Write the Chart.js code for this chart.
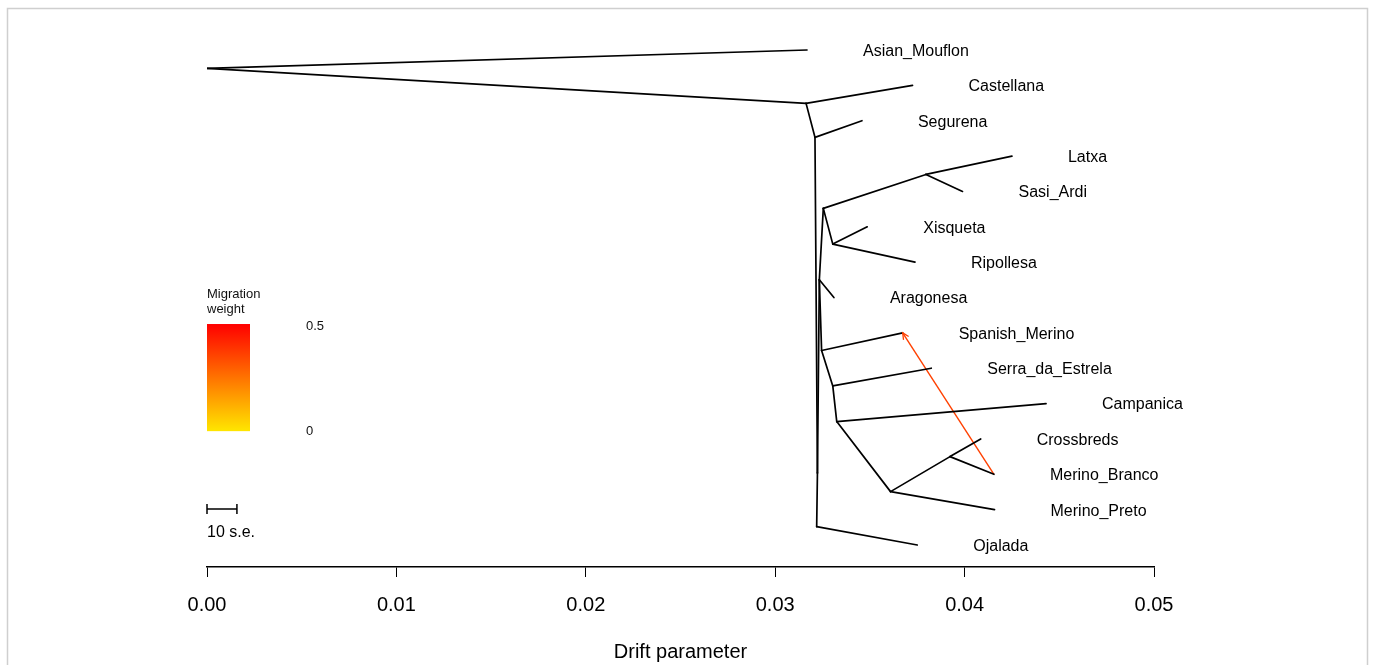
<!DOCTYPE html>
<html><head><meta charset="utf-8">
<script src="https://cdn.jsdelivr.net/npm/chart.js@4.4.1/dist/chart.umd.min.js"></script>
<style>html,body{margin:0;padding:0;background:#fff;overflow:hidden}#wrap{position:relative;width:1375px;height:665px}</style>
</head><body><div id="wrap"><canvas id="c" width="1375" height="665"></canvas></div>
<script>
// ---- data (x = drift parameter, y = tree row, 1 = top) ----
const nodeNames = ['root','A','B','X','I','G','C','F','E','H','K','L','M','N',
  'Asian_Mouflon','Castellana','Segurena','Latxa','Sasi_Ardi','Xisqueta','Ripollesa','Aragonesa',
  'Spanish_Merino','Serra_da_Estrela','Campanica','Crossbreds','Merino_Branco','Merino_Preto','Ojalada'];
const nodeX = [0.0,0.03163,0.03210,0.03223,0.03219,0.03233,0.03254,0.03796,0.03304,0.03245,0.03304,0.03325,0.03609,0.03923,
  0.03168,0.03725,0.03458,0.04250,0.03989,0.03486,0.03738,0.03310,
  0.03673,0.03824,0.04430,0.04085,0.04155,0.04158,0.03750];
const nodeY = [1.52,2.51,3.47,12.96,14.48,7.50,5.48,4.52,6.49,9.50,10.50,11.51,13.49,12.50,
  1,2,3,4,5,6,7,8,9,10,11,12,13,14,15];
const tips = ['Asian_Mouflon','Castellana','Segurena','Latxa','Sasi_Ardi','Xisqueta','Ripollesa','Aragonesa',
  'Spanish_Merino','Serra_da_Estrela','Campanica','Crossbreds','Merino_Branco','Merino_Preto','Ojalada'];
const edges = [['root','Asian_Mouflon'],['root','A'],['A','Castellana'],['A','B'],['B','Segurena'],['B','X'],
  ['X','I'],['I','Ojalada'],['X','G'],['G','C'],['G','Aragonesa'],['C','F'],['F','Latxa'],['F','Sasi_Ardi'],
  ['C','E'],['E','Xisqueta'],['E','Ripollesa'],['G','H'],['H','Spanish_Merino'],['H','K'],['K','Serra_da_Estrela'],
  ['K','L'],['L','Campanica'],['L','M'],['M','N'],['N','Crossbreds'],['N','Merino_Branco'],['M','Merino_Preto']];
const migrationFrom = ['Merino_Branco'];
const migrationTo = ['Spanish_Merino'];
const migrationWeight = [0.36];
const xTicks = [0.00,0.01,0.02,0.03,0.04,0.05];
const weightTicks = [0, 0.5];
const seBar = 0.00158; // 10 s.e.

// ---- build ----
const idx = n => nodeNames.indexOf(n);
const pt = n => ({x: nodeX[idx(n)], y: nodeY[idx(n)]});
function weightColor(w){
  const t = Math.max(0, Math.min(1, w/0.5));
  const g = Math.round(230*(1-t));
  return `rgb(255,${g},0)`;
}
const datasets = edges.map(([a,b]) => ({
  data:[pt(a),pt(b)], showLine:true, borderColor:'#000', borderWidth:1.7,
  pointRadius:0, borderCapStyle:'round', fill:false
}));
migrationFrom.forEach((f,i)=>{
  datasets.push({data:[pt(f),pt(migrationTo[i])], showLine:true, borderColor:weightColor(migrationWeight[i]),
    borderWidth:1.4, pointRadius:0, fill:false});
});

const FONT = '"Liberation Sans", Arial, sans-serif';
const extras = {
  id:'extras',
  beforeDraw(chart){
    const ctx = chart.ctx;
    ctx.save();
    ctx.strokeStyle = '#cfcfcf'; ctx.lineWidth = 1.5;
    ctx.strokeRect(7.5, 8.5, 1360, 700);
    ctx.restore();
  },
  afterDatasetsDraw(chart){
    const ctx = chart.ctx, xs = chart.scales.x, ys = chart.scales.y;
    ctx.save();
    // tip labels
    ctx.font = '16px ' + FONT; ctx.fillStyle = '#000';
    ctx.textAlign = 'left'; ctx.textBaseline = 'middle';
    tips.forEach(t => {
      const p = pt(t);
      ctx.fillText(t, xs.getPixelForValue(p.x) + 56, ys.getPixelForValue(p.y) + 1.5);
    });
    // migration arrowheads
    migrationFrom.forEach((f,i)=>{
      const a = pt(f), b = pt(migrationTo[i]);
      const x1 = xs.getPixelForValue(a.x), y1 = ys.getPixelForValue(a.y);
      const x2 = xs.getPixelForValue(b.x), y2 = ys.getPixelForValue(b.y);
      const ang = Math.atan2(y2-y1, x2-x1), L = 7, sp = 0.45;
      ctx.strokeStyle = weightColor(migrationWeight[i]); ctx.lineWidth = 1.3;
      ctx.beginPath();
      ctx.moveTo(x2 - L*Math.cos(ang-sp), y2 - L*Math.sin(ang-sp));
      ctx.lineTo(x2, y2);
      ctx.lineTo(x2 - L*Math.cos(ang+sp), y2 - L*Math.sin(ang+sp));
      ctx.stroke();
    });
    // migration weight colour bar
    const bx = xs.getPixelForValue(0), bw = 43, top = ys.getPixelForValue(8.75), bot = ys.getPixelForValue(11.78);
    const g = ctx.createLinearGradient(0, top, 0, bot);
    g.addColorStop(0, weightColor(0.5)); g.addColorStop(1, weightColor(0));
    ctx.fillStyle = g; ctx.fillRect(bx, top, bw, bot-top);
    ctx.fillStyle = '#111'; ctx.font = '13px ' + FONT; ctx.textBaseline = 'middle';
    ctx.fillText('Migration', bx, top - 30);
    ctx.fillText('weight', bx, top - 15);
    weightTicks.forEach(w => {
      const y = top + (bot-top)*(1 - w/0.5);
      ctx.fillText(String(w), bx + 99, y + (w===0?0:2));
    });
    // scale bar
    const sx1 = xs.getPixelForValue(0), sx2 = xs.getPixelForValue(seBar), sy = 509;
    ctx.strokeStyle = '#000'; ctx.lineWidth = 1.5;
    ctx.beginPath();
    ctx.moveTo(sx1, sy); ctx.lineTo(sx2, sy);
    ctx.moveTo(sx1, sy-5); ctx.lineTo(sx1, sy+5);
    ctx.moveTo(sx2, sy-5); ctx.lineTo(sx2, sy+5);
    ctx.stroke();
    ctx.fillStyle = '#000'; ctx.font = '16px ' + FONT;
    ctx.fillText('10 s.e.', sx1, sy + 24);
    ctx.restore();
  }
};

new Chart(document.getElementById('c'), {
  type:'scatter',
  data:{datasets},
  options:{
    responsive:false, animation:false, devicePixelRatio:1,
    layout:{padding:{left:207, right:221, top:10, bottom:0}},
    plugins:{legend:{display:false}, tooltip:{enabled:false}},
    scales:{
      x:{type:'linear', min:0, max:0.05,
        afterBuildTicks(s){ s.ticks = xTicks.map(v=>({value:v})); },
        afterFit(s){ s.height = 98; },
        ticks:{color:'#000', font:{family:FONT, size:20}, padding:16,
          callback:v=>Number(v).toFixed(2), maxRotation:0, autoSkip:false},
        grid:{display:true, drawOnChartArea:false, drawTicks:true, tickLength:10, color:'#000', lineWidth:1},
        border:{display:true, color:'#000', width:1.5},
        title:{display:true, text:'Drift parameter', color:'#000', font:{family:FONT, size:20}, padding:{top:0,bottom:1}}
      },
      y:{type:'linear', reverse:true, min:-0.131, max:15.622, display:false}
    }
  },
  plugins:[extras]
});
</script></body></html>
